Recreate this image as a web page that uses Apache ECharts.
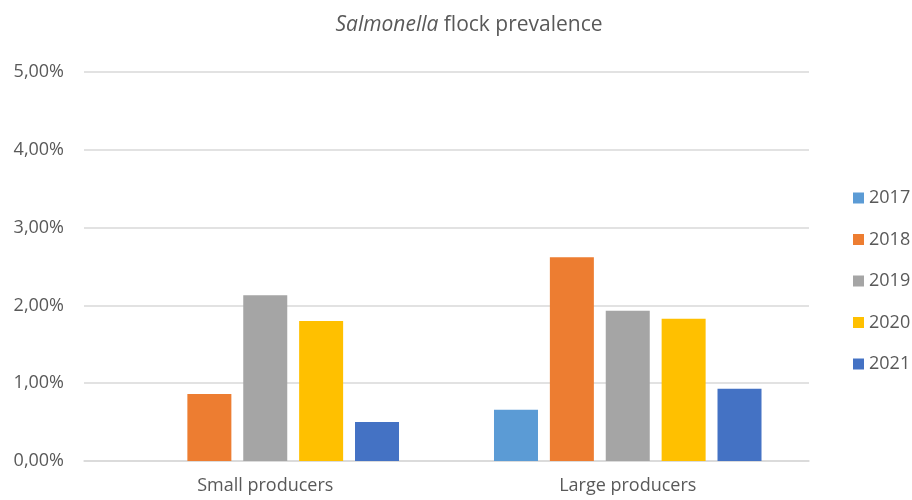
<!DOCTYPE html>
<html>
<head>
<meta charset="utf-8">
<style>
  html, body { margin: 0; padding: 0; background: #ffffff; }
  #chart { width: 912px; height: 500px; }
</style>
<script src="https://cdn.jsdelivr.net/npm/echarts@6/dist/echarts.min.js"></script>
</head>
<body>
<div id="chart"></div>
<script>
// Producer groups on the category axis
const categories = ['Small producers', 'Large producers'];

// Flock prevalence (%) per year; null where no value was reported
const years = ['2017', '2018', '2019', '2020', '2021'];
const prev2017 = [null, 0.66];
const prev2018 = [0.86, 2.62];
const prev2019 = [2.13, 1.93];
const prev2020 = [1.80, 1.83];
const prev2021 = [0.50, 0.93];

// Value axis ticks (percent)
const yTicks = [0, 1, 2, 3, 4, 5];

const yearColors = ['#5B9BD5', '#ED7D31', '#A5A5A5', '#FFC000', '#4472C4'];
const values = [prev2017, prev2018, prev2019, prev2020, prev2021];

const FONT = '"Open Sans", "Noto Sans", sans-serif';
const TEXT = '#595959';

const chart = echarts.init(document.getElementById('chart'), null, { renderer: 'canvas' });

chart.setOption({
  animation: false,
  textStyle: { fontFamily: FONT, color: TEXT },
  title: {
    text: '{i|Salmonella} flock prevalence',
    left: 464,
    textAlign: 'center',
    top: 10,
    textStyle: {
      fontFamily: FONT,
      fontSize: 21,
      fontWeight: 'normal',
      color: TEXT,
      rich: {
        i: { fontFamily: FONT, fontSize: 21, fontStyle: 'italic', color: TEXT }
      }
    }
  },
  legend: {
    orient: 'vertical',
    left: 853,
    top: 188,
    padding: 0,
    itemWidth: 11,
    itemHeight: 11,
    itemGap: 21.5,
    icon: 'rect',
    data: years,
    textStyle: { fontFamily: FONT, fontSize: 18, color: TEXT, lineHeight: 20 }
  },
  grid: { left: 84, right: 103, top: 72, bottom: 39 },
  xAxis: {
    type: 'category',
    data: categories,
    axisTick: { show: false },
    axisLine: { lineStyle: { color: '#D9D9D9', width: 1.5 } },
    axisLabel: { fontFamily: FONT, fontSize: 18, color: TEXT, margin: 16 }
  },
  yAxis: {
    type: 'value',
    min: yTicks[0],
    max: yTicks[yTicks.length - 1],
    interval: 1,
    axisLine: { show: false },
    axisTick: { show: false },
    splitLine: { lineStyle: { color: '#D9D9D9', width: 1.5 } },
    axisLabel: {
      fontFamily: FONT,
      fontSize: 18,
      color: TEXT,
      margin: 20,
      formatter: v => v.toFixed(2).replace('.', ',') + '%'
    }
  },
  series: years.map((y, i) => ({
    name: y,
    type: 'bar',
    data: values[i],
    barWidth: 44,
    barGap: '27%',
    itemStyle: { color: yearColors[i] }
  }))
});
</script>
</body>
</html>
